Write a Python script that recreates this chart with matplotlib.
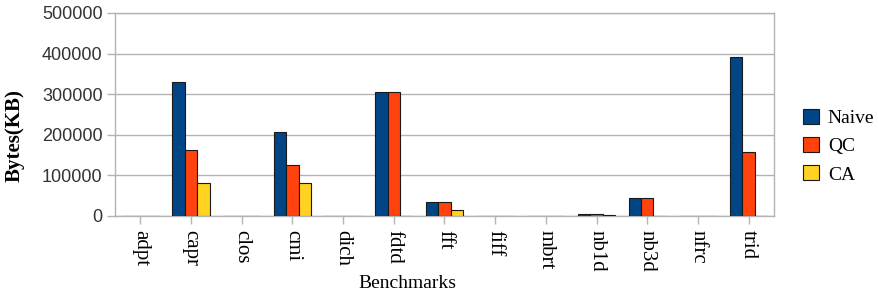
import matplotlib
matplotlib.use('Agg')
import matplotlib.pyplot as plt
import numpy as np

# Memory footprint per benchmark (KB)
benchmarks = ['adpt', 'capr', 'clos', 'cmi', 'dich', 'fdtd', 'fft',
              'fiff', 'mbrt', 'nb1d', 'nb3d', 'nfrc', 'trid']
naive = [600, 329000, 600, 206000, 0, 305000, 35000, 0, 0, 4000, 43500, 600, 392000]
qc = [600, 163000, 600, 124500, 0, 305000, 35000, 0, 0, 4000, 43500, 600, 157500]
ca = [600, 82000, 600, 82000, 0, 0, 16000, 0, 0, 3000, 0, 600, 600]

series = [('Naive', naive, '#004586'),
          ('QC', qc, '#ff420e'),
          ('CA', ca, '#ffd320')]

fig = plt.figure(figsize=(8.79, 3.0), dpi=100)
ax = fig.add_axes([0.1308, 0.28, 0.7497, 0.6767])

x = np.arange(len(benchmarks))
w = 0.245
for i, (name, vals, col) in enumerate(series):
    ax.bar(x + (i - 1) * w, vals, w, color=col, edgecolor='#1a1a1a',
           linewidth=0.8, label=name, zorder=3)

ax.set_xlim(-0.5, len(benchmarks) - 0.5)
ax.set_ylim(0, 500000)
ax.set_yticks(np.arange(0, 500001, 100000))
ax.set_yticklabels(['0', '100000', '200000', '300000', '400000', '500000'],
                   family='Liberation Sans', fontsize=13, color='#333333')
ax.set_xticks(x)
ax.set_xticklabels(benchmarks, rotation=-90, family='Liberation Serif',
                   fontsize=15, va='top')

ax.grid(axis='y', color='#b3b3b3', linewidth=1, zorder=0)
for s in ax.spines.values():
    s.set_color('#b3b3b3')
    s.set_linewidth(1)
ax.tick_params(axis='both', color='#b3b3b3', length=6, width=1)
ax.tick_params(axis='y', pad=3)
ax.tick_params(axis='x', pad=4)

# axis titles placed where the original puts them
fig.text(407 / 879, 1 - 284 / 300, 'Benchmarks', family='Liberation Serif',
         fontsize=14, ha='center', va='center')
fig.text(15 / 879, 1 - 136 / 300, 'Bytes(KB)', family='Liberation Serif',
         fontsize=15, fontweight='bold', rotation=90, ha='center', va='center')

leg = ax.legend(loc='center left', bbox_to_anchor=(0.903, 0.513),
                bbox_transform=fig.transFigure, frameon=False,
                prop={'family': 'Liberation Serif', 'size': 14},
                handlelength=0.8, handleheight=0.8, handletextpad=0.45,
                labelspacing=0.52, borderpad=0)

fig.savefig('out.png', dpi=100)
